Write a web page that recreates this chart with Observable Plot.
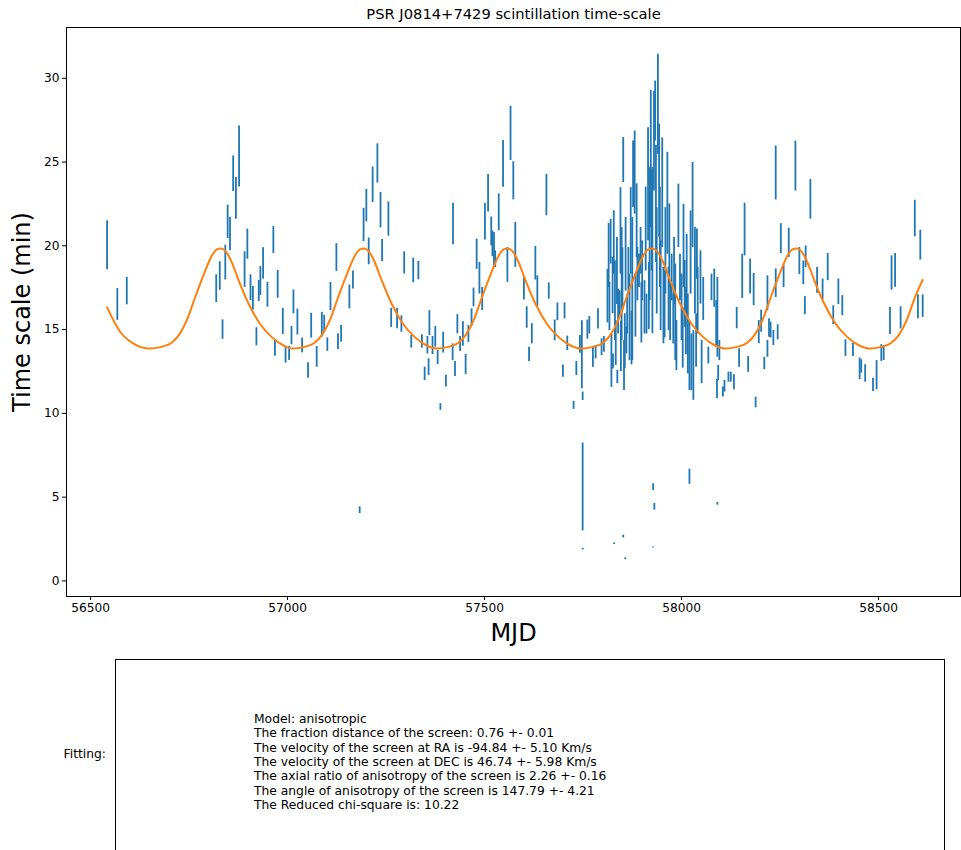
<!DOCTYPE html>
<html>
<head>
<meta charset="utf-8">
<script src="https://cdn.jsdelivr.net/npm/d3@7"></script>
<script src="https://cdn.jsdelivr.net/npm/@observablehq/plot@0.6"></script>
<style>
  html, body { margin: 0; padding: 0; background: #fff; }
  body { width: 961px; height: 850px; position: relative; overflow: hidden; font-family: "DejaVu Sans", sans-serif; }
  #chart { position: absolute; left: 0; top: 0; }
  #box { position: absolute; left: 115px; top: 659px; width: 830px; height: 260px; border: 1px solid #000; box-sizing: border-box; }
  #fitlabel { position: absolute; right: 855px; top: 747px; font-size: 12.3px; line-height: 15px; color: #000; }
  #fittext { position: absolute; left: 254px; top: 712px; font-size: 12.3px; line-height: 14.35px; color: #000; white-space: pre; }
</style>
</head>
<body>
<div id="chart"></div>
<div id="box"></div>
<div id="fitlabel">Fitting:</div>
<div id="fittext"></div>
<script>
// ---- Data ----
const title = "PSR J0814+7429 scintillation time-scale";
const xLabel = "MJD";
const yLabel = "Time scale (min)";
const xTicks = [56500, 57000, 57500, 58000, 58500];
const yTicks = [0, 5, 10, 15, 20, 25, 30];

const mjd = [56542,56568,56592,56819,56828,56835,56842,56848,56854,56862,56869,56877,56891,56898,56906,56912,56921,56927,56931,56938,56949,56964,56968,56975,56988,56995,57004,57010,57015,57025,57037,57052,57060,57074,57087,57093,57101,57109,57124,57128,57136,57157,57166,57183,57193,57200,57206,57216,57228,57236,57240,57256,57263,57278,57289,57296,57314,57319,57332,57341,57348,57355,57358,57360,57368,57375,57381,57388,57395,57402,57419,57420,57425,57431,57438,57445,57452,57459,57467,57472,57480,57487,57494,57501,57509,57517,57520,57524,57527,57536,57547,57558,57566,57573,57578,57600,57607,57613,57620,57629,57634,57657,57663,57678,57685,57699,57703,57710,57726,57733,57742,57747,57749,57749,57749,57761,57766,57775,57782,57788,57797,57803,
57815,57817,57820,57822,57825,57826,57828,57829,57831,57833,57837,57839,57843,57845,57848,57850,57852,57852,57854,57856,57857,57860,57862,57865,57868,57871,57875,57877,57881,57883,57888,57892,57896,57900,57906,57911,57915,57919,57922,
57926,57928,57928,57930,57931,57933,57937,57940,57943,57947,57951,57954,57959,57964,57967,57971,57975,57979,57984,57987,57992,57996,58000,58005,58008,58013,58016,58020,58020,58023,58025,58028,58030,58034,58037,58041,58048,58051,58055,58068,58076,58083,58088,58090,58091,58091,58093,58096,58105,58109,58119,58125,58133,58140,58146,58154,58160,58169,58174,58183,58188,58196,58202,58210,58218,58218,58222,58226,58233,58239,58239,58244,58252,58259,58272,58289,58299,58309,58313,58315,58327,58344,58358,58371,58385,58398,58408,58416,58435,58452,58456,58466,58486,58495,58507,58513,58529,58533,58542,58556,58592,58600,58606,58612,
57812,57836,57846,57858,57873,57886,57898,57909,57917,57924,57935,57945,57957,57969,57981,58003,58011,58039];

const tau = [20.03,16.5,17.3,17.44,18.2,15.0,19.0,21.43,20.7,24.3,22.83,25.33,18.58,20.1,17.5,16.87,14.57,17.3,17.9,18.95,17.08,20.35,13.9,17.7,15.49,13.5,13.58,14.64,16.65,15.45,14.05,12.56,15.23,13.37,15.29,15.37,14.1,16.97,19.3,14.28,14.75,16.95,17.96,4.22,21.25,22.4,19.67,23.64,24.92,22.13,19.72,21.6,15.7,15.66,15.33,18.98,14.27,18.53,18.52,14.29,12.36,14.07,12.76,15.39,14.05,14.57,13.33,10.38,14.22,11.92,13.65,21.3,12.65,15.32,14.14,14.74,12.92,14.74,15.72,16.92,19.5,18.07,16.82,21.44,23.14,20.86,20.12,19.8,19.2,22.0,24.89,18.86,26.71,23.88,20.06,17.46,15.72,13.52,14.75,18.96,17.27,23.03,17.3,14.96,16.06,12.52,16.12,14.18,10.48,12.68,14.12,13.5,11.02,5.61,1.9,15.0,15.26,13.37,13.65,15.64,13.95,14.12,
19.43,16.38,20.25,13.15,17.63,13.1,20.2,2.22,16.73,14.2,12.17,16.08,16.58,20.89,17.72,18.0,25.12,2.65,12.86,14.3,1.33,14.35,15.93,18.5,15.73,20.89,17.42,24.27,24.37,16.43,18.31,18.51,19.7,18.51,16.33,15.93,23.67,20.7,25.18,
19.71,5.6,2.0,26.25,4.42,28.04,19.1,28.45,23.88,17.62,23.17,16.43,19.7,22.54,16.83,16.13,18.11,15.63,16.03,14.05,21.79,18.11,16.33,20.0,17.13,18.31,14.74,13.45,6.22,19.6,13.05,22.44,12.86,18.51,14.35,16.73,18.11,13.06,16.83,13.45,17.52,17.47,15.34,11.46,15.73,4.6,12.41,13.75,11.27,11.62,12.16,12.16,11.86,15.69,13.3,18.18,20.97,12.92,18.17,17.39,10.65,14.85,15.5,12.98,17.17,13.85,15.09,14.97,14.5,17.77,24.35,14.84,20.43,18.18,20.18,24.76,19.09,18.39,16.43,19.35,22.78,17.94,17.4,18.73,15.86,17.26,16.43,13.89,13.79,12.66,12.8,12.38,11.7,12.28,13.6,13.6,15.51,18.38,18.53,15.7,21.63,16.36,20.04,16.4,
17.0,18.5,14.0,19.5,14.5,21.5,16.0,21.0,17.0,21.5,22.5,20.5,16.5,20.0,18.5,14.5,15.5,19.5];

const err = [1.46,0.95,0.82,0.83,0.85,0.58,1.04,1.0,1.0,1.06,1.24,1.82,1.06,0.9,0.77,0.7,0.54,0.63,0.86,0.94,0.74,0.8,0.49,0.83,0.78,0.5,0.42,0.55,0.71,0.77,0.44,0.46,0.74,0.62,0.74,0.47,0.4,0.84,0.83,0.47,0.5,0.71,0.54,0.2,0.99,0.97,0.8,1.06,1.17,1.06,0.65,1.02,0.57,0.61,0.49,0.66,0.38,0.73,0.55,0.4,0.4,0.52,0.5,0.74,0.54,0.62,0.42,0.2,0.62,0.35,0.5,1.24,0.45,0.57,0.45,0.73,0.6,0.5,0.52,0.56,0.9,0.94,0.69,1.1,1.12,0.86,0.77,0.99,0.5,1.1,1.4,1.04,1.62,1.14,1.34,0.69,0.64,0.43,0.6,1.0,0.94,1.24,0.48,0.61,0.53,0.37,0.48,0.43,0.24,0.42,0.53,2.03,0.25,2.62,0.05,0.57,0.52,0.62,0.4,0.6,0.5,0.47,
1.9,1.44,1.34,1.6,1.68,0.45,1.89,0.05,2.38,1.34,0.4,1.34,0.74,2.58,3.37,1.88,1.34,0.08,1.49,1.64,0.05,0.8,1.19,1.39,2.58,2.58,4.27,1.99,2.48,1.88,1.59,1.0,1.39,1.79,1.59,1.19,3.37,3.97,4.09,
4.96,0.2,0.03,2.98,0.2,1.79,3.17,2.98,3.37,2.68,3.27,2.28,2.58,3.04,1.89,1.78,1.39,1.49,2.88,1.49,1.89,1.39,1.99,2.48,1.99,2.38,2.38,2.08,0.45,2.48,1.69,2.54,2.08,2.58,1.59,1.99,1.59,1.29,1.29,0.5,0.79,1.14,1.39,0.57,2.38,0.08,0.45,0.6,0.3,0.35,0.3,0.3,0.45,0.64,0.55,1.32,1.57,0.47,1.04,0.96,0.32,0.69,0.66,0.37,1.04,0.5,0.55,0.47,0.45,0.85,1.61,0.45,0.89,0.67,0.87,1.49,0.81,0.71,0.54,0.64,1.19,0.77,0.62,0.81,0.56,0.76,0.6,0.5,0.4,0.65,0.4,0.52,0.4,0.87,0.5,0.45,0.81,1.02,1.01,0.66,1.09,0.72,0.89,0.67,
1.6,2.0,1.5,2.2,1.6,2.2,1.8,2.5,2.0,3.0,3.5,3.0,2.0,2.5,2.0,1.8,2.0,1.5];

// Model curve (orange)
const modelMjd = [56542,56576,56610,
56650,56680,56705,56725,56745,56765,56790,56810,56822,56832,56842,56855,56875,56900,56930,56960,56990,
57013,57043,57068,57088,57108,57128,57153,57173,57185,57195,57205,57218,57238,57263,57293,57323,57353,
57378,57408,57433,57453,57473,57493,57518,57538,57550,57560,57570,57583,57603,57628,57658,57688,57718,
57745,57775,57800,57820,57840,57860,57885,57905,57917,57927,57937,57950,57970,57995,58025,58055,58085,
58111,58141,58166,58186,58206,58226,58251,58271,58283,58293,58303,58316,58336,58361,58391,58421,58451,
58477,58507,58532,58552,58572,58592,58612];
const modelTau = [16.33,14.84,14.15,
13.87,13.97,14.2,14.7,15.6,16.9,18.45,19.5,19.8,19.84,19.7,19.2,18.0,16.6,15.35,14.55,14.05,
13.87,13.97,14.2,14.7,15.6,16.9,18.45,19.5,19.8,19.84,19.7,19.2,18.0,16.6,15.35,14.55,14.05,
13.87,13.97,14.2,14.7,15.6,16.9,18.45,19.5,19.8,19.84,19.7,19.2,18.0,16.6,15.35,14.55,14.05,
13.87,13.97,14.2,14.7,15.6,16.9,18.45,19.5,19.8,19.84,19.7,19.2,18.0,16.6,15.35,14.55,14.05,
13.87,13.97,14.2,14.7,15.6,16.9,18.45,19.5,19.8,19.84,19.7,19.2,18.0,16.6,15.35,14.55,14.05,
13.87,13.97,14.2,14.7,15.6,16.9,17.96];

const fitLines = [
  "Model: anisotropic",
  "The fraction distance of the screen: 0.76 +- 0.01",
  "The velocity of the screen at RA is -94.84 +- 5.10 Km/s",
  "The velocity of the screen at DEC is 46.74 +- 5.98 Km/s",
  "The axial ratio of anisotropy of the screen is 2.26 +- 0.16",
  "The angle of anisotropy of the screen is 147.79 +- 4.21",
  "The Reduced chi-square is: 10.22"
];

// ---- Build tables ----
const points = mjd.map((m, i) => ({mjd: m, lo: tau[i] - err[i], hi: tau[i] + err[i]}));
const model = modelMjd.map((m, i) => ({mjd: m, tau: modelTau[i]}));

const plot = Plot.plot({
  width: 961,
  height: 650,
  marginTop: 27,
  marginBottom: 54,
  marginLeft: 66,
  marginRight: 1,
  style: {fontFamily: "DejaVu Sans, sans-serif", background: "#fff", color: "#000"},
  x: {domain: [56439, 58708]},
  y: {domain: [-0.93, 33.03]},
  marks: [
    Plot.ruleX(points, {x: "mjd", y1: "lo", y2: "hi", stroke: "#1f77b4", strokeWidth: 1.8}),
    Plot.line(model, {x: "mjd", y: "tau", stroke: "#ff7f0e", strokeWidth: 2, curve: "monotone-x"}),
    Plot.frame({stroke: "#000", strokeWidth: 1}),
    Plot.axisX(xTicks, {tickSize: 4, tickPadding: 3, fontSize: 12.2, label: null, tickFormat: d => String(d), stroke: "#000"}),
    Plot.axisY(yTicks, {tickSize: 4, tickPadding: 3, fontSize: 12.2, label: null, tickFormat: d => String(d), stroke: "#000"}),
    Plot.text([title], {text: d => d, frameAnchor: "top", lineAnchor: "middle", textAnchor: "middle", dy: -13, fontSize: 14.7, fill: "#000"}),
    Plot.text([xLabel], {text: d => d, frameAnchor: "bottom", lineAnchor: "middle", textAnchor: "middle", dy: 37, fontSize: 24, fill: "#000"}),
    Plot.text([yLabel], {text: d => d, frameAnchor: "left", lineAnchor: "middle", textAnchor: "middle", dx: -44, rotate: -90, fontSize: 24, fill: "#000"})
  ]
});
document.getElementById("chart").appendChild(plot);
document.getElementById("fittext").textContent = fitLines.join("\n");
</script>
</body>
</html>
